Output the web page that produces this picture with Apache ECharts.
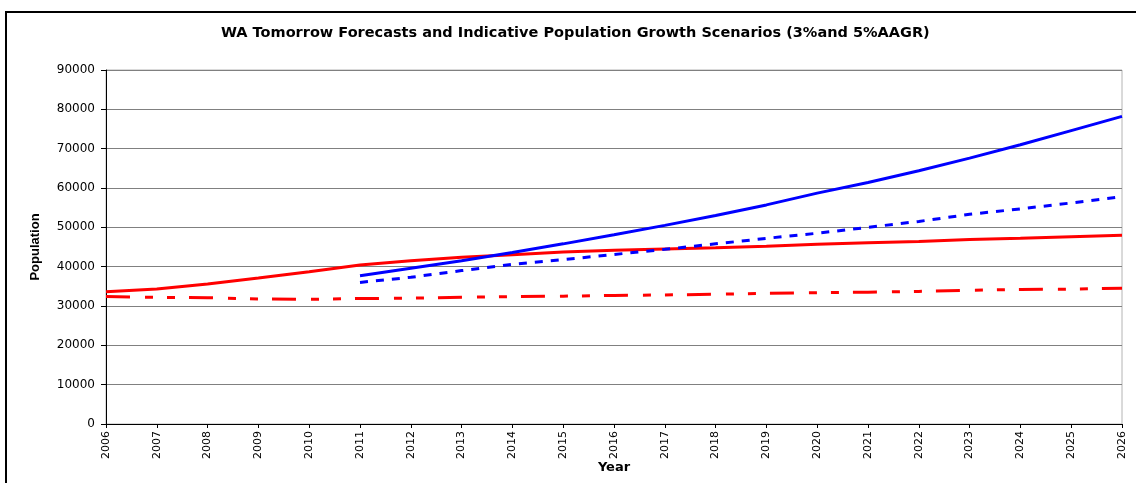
<!DOCTYPE html>
<html>
<head>
<meta charset="utf-8">
<script src="https://cdn.jsdelivr.net/npm/echarts@6/dist/echarts.min.js"></script>
<style>
  html, body { margin: 0; padding: 0; background: #fff; }
  #chart { width: 1136px; height: 483px; }
</style>
</head>
<body>
<div id="chart"></div>
<script>
// Years on the horizontal axis
const years = ['2006','2007','2008','2009','2010','2011','2012','2013','2014','2015','2016',
               '2017','2018','2019','2020','2021','2022','2023','2024','2025','2026'];

// WA Tomorrow forecasts (red)
const waHigh = [33600, 34300, 35600, 37100, 38700, 40400, 41500, 42400, 43000, 43700, 44200,
                44500, 44800, 45200, 45700, 46100, 46400, 46900, 47200, 47600, 48000];
const waLow  = [32400, 32200, 32100, 31800, 31700, 31900, 32000, 32200, 32400, 32500, 32700,
                32800, 33000, 33200, 33400, 33500, 33700, 34000, 34200, 34300, 34500];

// Indicative growth scenarios from 2011 (blue)
const aagr5 = ['-', '-', '-', '-', '-', 37700, 39600, 41500, 43600, 45800, 48100,
               50500, 53000, 55700, 58700, 61400, 64400, 67600, 71000, 74600, 78200];
const aagr3 = ['-', '-', '-', '-', '-', 36000, 37300, 39000, 40600, 41800, 43100,
               44400, 45800, 47200, 48500, 50000, 51500, 53300, 54700, 56200, 57800];

const yTicks = { min: 0, max: 90000, interval: 10000 };

const SANS = 'Liberation Sans, Arial, sans-serif';
const WIDE = 'DejaVu Sans, Verdana, sans-serif';

const chart = echarts.init(document.getElementById('chart'), null, { renderer: 'canvas' });

function lineSeries(name, data, color, dash) {
  return {
    name: name,
    type: 'line',
    data: data,
    showSymbol: false,
    symbol: 'none',
    connectNulls: false,
    animation: false,
    lineStyle: { color: color, width: 3, type: dash || 'solid', cap: 'butt' },
    emphasis: { disabled: true }
  };
}

chart.setOption({
  backgroundColor: '#ffffff',
  animation: false,
  title: {
    text: 'WA Tomorrow Forecasts and Indicative Population Growth Scenarios (3%and 5%AAGR)',
    left: 216,
    top: 21,
    textStyle: { fontFamily: WIDE, fontSize: 14.5, fontWeight: 'bold', color: '#000' }
  },
  graphic: [{
    type: 'rect',
    shape: { x: 6, y: 12, width: 1400, height: 700 },
    style: { fill: 'none', stroke: '#000', lineWidth: 2 },
    silent: true,
    z: 100
  }],
  grid: {
    left: 106, right: 14, top: 70, bottom: 59,
    show: true, borderColor: '#b4b4b4', borderWidth: 1, backgroundColor: 'transparent'
  },
  xAxis: {
    type: 'category',
    data: years,
    boundaryGap: false,
    name: 'Year',
    nameLocation: 'middle',
    nameGap: 37,
    nameMoveOverlap: false,
    nameTextStyle: { fontFamily: WIDE, fontSize: 13, fontWeight: 'bold', color: '#000' },
    axisLine: { lineStyle: { color: '#000', width: 1 } },
    axisTick: { show: true, length: 4, lineStyle: { color: '#000' } },
    axisLabel: { rotate: 90, margin: 7, fontFamily: WIDE, fontSize: 11, color: '#000', interval: 0 },
    splitLine: { show: false }
  },
  yAxis: {
    type: 'value',
    min: yTicks.min,
    max: yTicks.max,
    interval: yTicks.interval,
    name: 'Population',
    nameLocation: 'middle',
    nameRotate: 90,
    nameGap: 64,
    nameMoveOverlap: false,
    nameTextStyle: { fontFamily: SANS, fontSize: 13, fontWeight: 'bold', color: '#000' },
    axisLine: { show: true, lineStyle: { color: '#000', width: 1 } },
    axisTick: { show: true, length: 5, lineStyle: { color: '#000' } },
    axisLabel: {
      margin: 11, fontFamily: WIDE, fontSize: 12, color: '#000',
      formatter: function (v) { return String(v); }
    },
    splitLine: { show: true, lineStyle: { color: '#808080', width: 1 } }
  },
  series: [
    lineSeries('WA Tomorrow High', waHigh, '#ff0000'),
    lineSeries('WA Tomorrow Low', waLow, '#ff0000', [24, 15, 8, 14, 8, 14]),
    lineSeries('5% AAGR', aagr5, '#0000ff'),
    lineSeries('3% AAGR', aagr3, '#0000ff', [8, 8])
  ]
});
</script>
</body>
</html>
